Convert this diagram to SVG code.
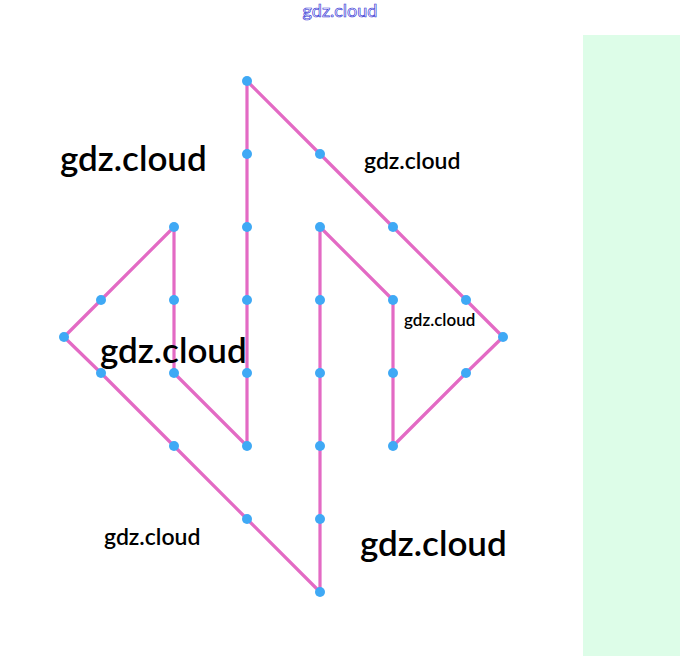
<svg xmlns="http://www.w3.org/2000/svg" width="680" height="656" viewBox="0 0 680 656">
<style>
.e{fill:none;stroke:#e36ac4;stroke-width:3.2;stroke-linejoin:round;stroke-linecap:round}
.d{fill:#3fa9f5}
.t{font-family:Lato,"Noto Sans",sans-serif;fill:#000;font-weight:600}
.ttl{font-family:Lato,"Noto Sans",sans-serif;font-size:18px;fill:#fff;stroke:#3a3ad6;stroke-width:0.7}
</style>
<rect x="0" y="0" width="680" height="656" fill="#fff"/>
<rect x="583" y="35" width="97" height="621" fill="#ddfde8"/>
<text class="ttl" x="340" y="17" text-anchor="middle">gdz.cloud</text>
<g id="edges">
<polyline class="e" points="247,81 320,154 393,227 466,300 503,337 466,373 393,446 393,300 320,227 320,592 247,519 174,446 101,373 64,337 101,300 174,227 174,373 247,446 247,81"/>
</g>
<g id="nodes">
<circle class="d" cx="247" cy="81" r="5"/>
<circle class="d" cx="320" cy="154" r="5"/>
<circle class="d" cx="393" cy="227" r="5"/>
<circle class="d" cx="466" cy="300" r="5"/>
<circle class="d" cx="503" cy="337" r="5"/>
<circle class="d" cx="466" cy="373" r="5"/>
<circle class="d" cx="393" cy="446" r="5"/>
<circle class="d" cx="393" cy="373" r="5"/>
<circle class="d" cx="393" cy="300" r="5"/>
<circle class="d" cx="320" cy="227" r="5"/>
<circle class="d" cx="320" cy="300" r="5"/>
<circle class="d" cx="320" cy="373" r="5"/>
<circle class="d" cx="320" cy="446" r="5"/>
<circle class="d" cx="320" cy="519" r="5"/>
<circle class="d" cx="320" cy="592" r="5"/>
<circle class="d" cx="247" cy="519" r="5"/>
<circle class="d" cx="174" cy="446" r="5"/>
<circle class="d" cx="101" cy="373" r="5"/>
<circle class="d" cx="64" cy="337" r="5"/>
<circle class="d" cx="101" cy="300" r="5"/>
<circle class="d" cx="174" cy="227" r="5"/>
<circle class="d" cx="174" cy="300" r="5"/>
<circle class="d" cx="174" cy="373" r="5"/>
<circle class="d" cx="247" cy="446" r="5"/>
<circle class="d" cx="247" cy="373" r="5"/>
<circle class="d" cx="247" cy="300" r="5"/>
<circle class="d" cx="247" cy="227" r="5"/>
<circle class="d" cx="247" cy="154" r="5"/>
</g>
<g id="labels">
<text class="t" x="60" y="171" font-size="35">gdz.cloud</text>
<text class="t" x="364" y="169" font-size="23">gdz.cloud</text>
<text class="t" x="100" y="363" font-size="35">gdz.cloud</text>
<text class="t" x="404" y="326" font-size="17">gdz.cloud</text>
<text class="t" x="104" y="545" font-size="23">gdz.cloud</text>
<text class="t" x="360" y="556" font-size="35">gdz.cloud</text>
</g>
</svg>
